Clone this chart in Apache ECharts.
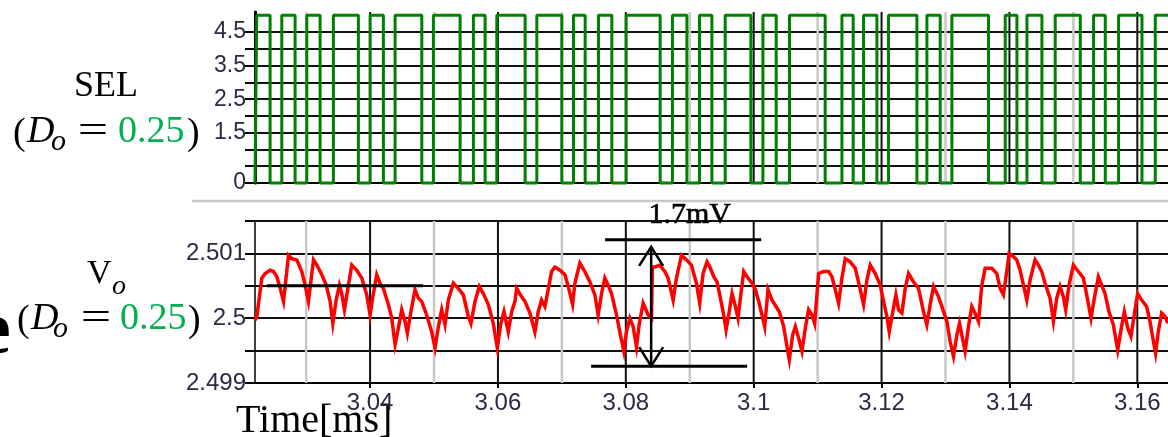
<!DOCTYPE html>
<html><head><meta charset="utf-8">
<script src="https://cdn.jsdelivr.net/npm/echarts@6/dist/echarts.min.js"></script>
<style>html,body{margin:0;padding:0;background:#fff}#c{width:1168px;height:437px}</style>
</head><body><div id="c"></div>
<script>
// ---------- data ----------
const timeMin = 3.0220, timeMax = 3.1648;
const timeMajor = [3.04, 3.06, 3.08, 3.10, 3.12, 3.14, 3.16];
const timeMinor = [3.03, 3.05, 3.07, 3.09, 3.11, 3.13, 3.15];
const selTickValues = [0, 0.5, 1, 1.5, 2, 2.5, 3, 3.5, 4, 4.5];
const selLabelValues = [0, 1.5, 2.5, 3.5, 4.5];
const selLow = 0, selHigh = 5;
// SEL toggle instants [ms], starts low
const selEdges = [3.02227, 3.02436, 3.02619, 3.02827, 3.03010, 3.03218, 3.03426, 3.03817, 3.04000, 3.04208,
  3.04391, 3.04809, 3.04990, 3.05408, 3.05616, 3.05799, 3.05982, 3.06425, 3.06608, 3.06999,
  3.07181, 3.07364, 3.07572, 3.07781, 3.08005, 3.08537, 3.08729, 3.08955, 3.09152, 3.09346,
  3.09554, 3.09956, 3.10144, 3.10352, 3.10560, 3.11118, 3.11380, 3.11556, 3.11718, 3.11927,
  3.12109, 3.12553, 3.12709, 3.12917, 3.13100, 3.13673, 3.13934, 3.14117, 3.14274, 3.14508,
  3.14716, 3.15108, 3.15316, 3.15499, 3.15707, 3.16073, 3.16281];
const voTime = [3.0220, 3.02229, 3.02307, 3.02359, 3.02438, 3.02490, 3.02542, 3.02594, 3.02646, 3.02724,
  3.02776, 3.02854, 3.02932, 3.02984, 3.03036, 3.03115, 3.03167, 3.03245, 3.03313, 3.03375,
  3.03417, 3.03469, 3.03521, 3.03557, 3.03599, 3.03661, 3.03714, 3.03792, 3.03870, 3.03948,
  3.04000, 3.04052, 3.04104, 3.04167, 3.04208, 3.04286, 3.04339, 3.04391, 3.04443, 3.04495,
  3.04547, 3.04583, 3.04635, 3.04703, 3.04755, 3.04807, 3.04885, 3.04964, 3.05016, 3.05068,
  3.05120, 3.05172, 3.05224, 3.05302, 3.05380, 3.05458, 3.05536, 3.05578, 3.05641, 3.05708,
  3.05771, 3.05849, 3.05927, 3.05990, 3.06042, 3.06094, 3.06161, 3.06214, 3.06266, 3.06292,
  3.06370, 3.06422, 3.06500, 3.06578, 3.06630, 3.06682, 3.06734, 3.06760, 3.06839, 3.06891,
  3.06969, 3.07047, 3.07099, 3.07167, 3.07203, 3.07281, 3.07359, 3.07438, 3.07516, 3.07568,
  3.07620, 3.07672, 3.07724, 3.07776, 3.07854, 3.07906, 3.07969, 3.08010, 3.08063, 3.08115,
  3.08167, 3.08208, 3.08271, 3.08349, 3.08401, 3.08415, 3.08453, 3.08531, 3.08609, 3.08661,
  3.08740, 3.08792, 3.08870, 3.08948, 3.09026, 3.09104, 3.09156, 3.09208, 3.09270, 3.09323,
  3.09375, 3.09427, 3.09479, 3.09531, 3.09568, 3.09609, 3.09661, 3.09714, 3.09755, 3.09792,
  3.09844, 3.09896, 3.09974, 3.10026, 3.10078, 3.10130, 3.10172, 3.10224, 3.10286, 3.10349,
  3.10401, 3.10469, 3.10521, 3.10557, 3.10609, 3.10651, 3.10703, 3.10755, 3.10807, 3.10859,
  3.10911, 3.10953, 3.11016, 3.11094, 3.11172, 3.11224, 3.11276, 3.11328, 3.11380, 3.11432,
  3.11510, 3.11589, 3.11667, 3.11719, 3.11771, 3.11823, 3.11901, 3.11979, 3.12031, 3.12083,
  3.12120, 3.12172, 3.12224, 3.12266, 3.12318, 3.12370, 3.12422, 3.12500, 3.12578, 3.12656,
  3.12708, 3.12760, 3.12813, 3.12891, 3.12943, 3.13021, 3.13073, 3.13125, 3.13177, 3.13219,
  3.13266, 3.13307, 3.13359, 3.13411, 3.13474, 3.13516, 3.13568, 3.13620, 3.13724, 3.13802,
  3.13854, 3.13906, 3.13958, 3.13995, 3.14063, 3.14115, 3.14167, 3.14219, 3.14271, 3.14323,
  3.14401, 3.14453, 3.14505, 3.14557, 3.14635, 3.14688, 3.14740, 3.14792, 3.14844, 3.14880,
  3.14932, 3.15000, 3.15078, 3.15156, 3.15208, 3.15276, 3.15328, 3.15391, 3.15443, 3.15495,
  3.15557, 3.15625, 3.15693, 3.15745, 3.15797, 3.15849, 3.15901, 3.15964, 3.16005, 3.16068,
  3.16146, 3.16198, 3.16234, 3.16286, 3.16328, 3.16380, 3.16432, 3.16479];
const voValue = [2.49997, 2.50003, 2.50062, 2.50069, 2.50074, 2.50072, 2.50064, 2.50046, 2.50026, 2.50097,
  2.50092, 2.50090, 2.50072, 2.50051, 2.50026, 2.50090, 2.50082, 2.50067, 2.50051, 2.50026,
  2.49992, 2.50028, 2.50051, 2.50038, 2.50013, 2.50051, 2.50082, 2.50074, 2.50062, 2.50036,
  2.50005, 2.50038, 2.50067, 2.50051, 2.50046, 2.50021, 2.50000, 2.49959, 2.49985, 2.50013,
  2.49995, 2.49977, 2.50008, 2.50044, 2.50031, 2.50026, 2.50005, 2.49979, 2.49954, 2.49987,
  2.50013, 2.49990, 2.50028, 2.50054, 2.50046, 2.50036, 2.50003, 2.49992, 2.50026, 2.50049,
  2.50038, 2.50021, 2.49992, 2.49954, 2.49990, 2.50010, 2.49979, 2.50010, 2.50026, 2.50046,
  2.50033, 2.50026, 2.50008, 2.49979, 2.50010, 2.50028, 2.50018, 2.50031, 2.50072, 2.50079,
  2.50074, 2.50067, 2.50049, 2.50021, 2.50054, 2.50085, 2.50072, 2.50056, 2.50036, 2.50005,
  2.50038, 2.50062, 2.50051, 2.50038, 2.50005, 2.49979, 2.49949, 2.49979, 2.50000, 2.49987,
  2.49956, 2.49990, 2.50023, 2.50005, 2.50000, 2.50079, 2.50079, 2.50082, 2.50072, 2.50062,
  2.50028, 2.50062, 2.50097, 2.50090, 2.50082, 2.50054, 2.50023, 2.50069, 2.50087, 2.50077,
  2.50064, 2.50056, 2.50031, 2.50005, 2.49982, 2.50005, 2.50038, 2.50018, 2.50000, 2.50031,
  2.50072, 2.50064, 2.50054, 2.50044, 2.50026, 2.50005, 2.49987, 2.50044, 2.50028, 2.50018,
  2.50010, 2.49987, 2.49956, 2.49936, 2.49974, 2.49987, 2.49969, 2.49949, 2.49985, 2.50013,
  2.50005, 2.49992, 2.50069, 2.50072, 2.50072, 2.50064, 2.50044, 2.50023, 2.50062, 2.50092,
  2.50087, 2.50077, 2.50044, 2.50021, 2.50059, 2.50082, 2.50069, 2.50051, 2.50026, 2.50003,
  2.49979, 2.50008, 2.50036, 2.50013, 2.50008, 2.50046, 2.50069, 2.50056, 2.50046, 2.50010,
  2.49990, 2.50021, 2.50049, 2.50033, 2.50018, 2.49995, 2.49964, 2.49941, 2.49974, 2.49992,
  2.49969, 2.49949, 2.49987, 2.50018, 2.50005, 2.49995, 2.50051, 2.50077, 2.50077, 2.50069,
  2.50046, 2.50036, 2.50072, 2.50100, 2.50095, 2.50090, 2.50074, 2.50051, 2.50028, 2.50059,
  2.50090, 2.50082, 2.50072, 2.50054, 2.50031, 2.49995, 2.50031, 2.50049, 2.50033, 2.50013,
  2.50051, 2.50082, 2.50072, 2.50062, 2.50036, 2.50000, 2.50031, 2.50064, 2.50051, 2.50038,
  2.50010, 2.49990, 2.49951, 2.49982, 2.50010, 2.49985, 2.49972, 2.50013, 2.50038, 2.50028,
  2.50018, 2.49995, 2.49974, 2.49946, 2.49979, 2.50008, 2.50003, 2.49992];
// annotation segments: [t1, v1, t2, v2, kind]  kind 0 = line, 1 = double arrow
const annotSegments = [
  [3.07676, 2.50121, 3.10117, 2.50121, 0],
  [3.07457, 2.49926, 3.09898, 2.49926, 0],
  [3.02389, 2.50050, 3.04829, 2.50050, 0],
  [3.08396, 2.50110, 3.08396, 2.49926, 1]
];
const rippleLabelPos = [3.0900, 2.50159];
const rippleLabel = '1.7mV';

// ---------- build ----------
const selData = [[timeMin, selLow]];
let lvl = selLow;
selEdges.forEach(t => { selData.push([t, lvl]); lvl = (lvl === selLow) ? selHigh : selLow; selData.push([t, lvl]); });
selData.push([timeMax, lvl]);
const voData = voTime.map((t, i) => [t, voValue[i]]);

const tickColor = '#2a2a45';
const serif = 'Liberation Serif';
const sans = 'Liberation Sans';

function vGrid(idx, values, yVal, color, width) {
  return {
    type: 'custom', xAxisIndex: idx, yAxisIndex: idx, silent: true, z: 1, clip: false,
    data: values.map(v => [v, yVal]), encode: { x: 0, y: 1 },
    renderItem: (params, api) => {
      const cs = params.coordSys;
      const x = api.coord([api.value(0), api.value(1)])[0];
      return { type: 'line', shape: { x1: x, y1: cs.y, x2: x, y2: cs.y + cs.height }, style: { stroke: color, lineWidth: width } };
    }
  };
}

const chart = echarts.init(document.getElementById('c'), null, { renderer: 'canvas' });
const splitColorsTop = [];
for (let i = 0; i < 12; i++) splitColorsTop.push(i < 10 ? '#111' : 'rgba(0,0,0,0)');

const option = {
  animation: false,
  backgroundColor: '#fff',
  grid: [
    { left: 255, right: 0, top: 12, height: 171 },
    { left: 255, right: 0, top: 221, height: 162 }
  ],
  xAxis: [
    { gridIndex: 0, type: 'value', min: timeMin, max: timeMax,
      axisLine: { show: true, onZero: false, lineStyle: { color: '#000', width: 2 } },
      axisTick: { show: false }, axisLabel: { show: false }, splitLine: { show: false } },
    { gridIndex: 1, type: 'value', min: timeMin, max: timeMax,
      axisLine: { show: true, onZero: false, lineStyle: { color: '#000', width: 2 } },
      axisTick: { show: true, customValues: timeMajor, length: 5, lineStyle: { color: '#000', width: 2 } },
      axisLabel: { customValues: timeMajor, formatter: v => String(+(+v).toFixed(2)), fontSize: 24, fontFamily: sans, color: tickColor, margin: 8 },
      splitLine: { show: false } }
  ],
  yAxis: [
    { gridIndex: 0, type: 'value', min: 0, max: 5.1, interval: 0.5,
      axisLine: { show: true, lineStyle: { color: '#000', width: 3 } },
      axisTick: { show: true, customValues: selTickValues, length: 10, lineStyle: { color: '#000', width: 2 } },
      axisLabel: { customValues: selLabelValues, fontSize: 23, fontFamily: sans, color: tickColor, margin: 9 },
      splitLine: { show: true, lineStyle: { color: splitColorsTop, width: 2 } } },
    { gridIndex: 1, type: 'value', min: 2.499, max: 2.5015, interval: 0.0005,
      axisLine: { show: true, lineStyle: { color: '#000', width: 1.5 } },
      axisTick: { show: true, length: 10, lineStyle: { color: '#000', width: 2 } },
      axisLabel: { fontSize: 24, fontFamily: sans, color: tickColor, margin: 9,
        formatter: v => (Math.round(v * 10000) % 10 === 0) ? String(Math.round(v * 1000) / 1000) : '' },
      splitLine: { show: true, lineStyle: { color: '#111', width: 2 } } }
  ],
  series: [
    vGrid(0, timeMinor, 1, '#c8c8c8', 2.5),
    vGrid(0, timeMajor, 1, '#111', 2),
    vGrid(1, timeMinor, 2.5, '#c8c8c8', 2.5),
    vGrid(1, timeMajor, 2.5, '#111', 2),
    { type: 'line', xAxisIndex: 0, yAxisIndex: 0, data: selData, showSymbol: false, z: 3, clip: false,
      lineStyle: { color: '#008000', width: 3 }, itemStyle: { color: '#008000' } },
    { type: 'line', xAxisIndex: 1, yAxisIndex: 1, data: voData, showSymbol: false, z: 3,
      lineStyle: { color: '#ff0000', width: 3.5, join: 'miter' }, itemStyle: { color: '#ff0000' } },
    { type: 'custom', xAxisIndex: 1, yAxisIndex: 1, z: 10, clip: false, silent: true,
      data: annotSegments, encode: { x: [0, 2], y: [1, 3] },
      renderItem: (params, api) => {
        const p1 = api.coord([api.value(0), api.value(1)]);
        const p2 = api.coord([api.value(2), api.value(3)]);
        const kind = api.value(4);
        const children = [{ type: 'line', shape: { x1: p1[0], y1: p1[1], x2: p2[0], y2: p2[1] }, style: { stroke: '#000', lineWidth: kind === 1 ? 2.5 : 3 } }];
        if (kind === 1) {
          const w = 12, h = 19;
          children.push({ type: 'polyline', shape: { points: [[p1[0] - w, p1[1] + h], [p1[0], p1[1]], [p1[0] + w, p1[1] + h]] }, style: { stroke: '#000', lineWidth: 2.5, fill: null } });
          children.push({ type: 'polyline', shape: { points: [[p2[0] - w, p2[1] - h], [p2[0], p2[1]], [p2[0] + w, p2[1] - h]] }, style: { stroke: '#000', lineWidth: 2.5, fill: null } });
        }
        return { type: 'group', children };
      } },
    { type: 'custom', xAxisIndex: 1, yAxisIndex: 1, z: 11, clip: false, silent: true,
      data: [rippleLabelPos], encode: { x: 0, y: 1 },
      renderItem: (params, api) => {
        const p = api.coord([api.value(0), api.value(1)]);
        return { type: 'text', x: p[0], y: p[1], style: { text: rippleLabel, fontSize: 30, fontFamily: serif, fill: '#000', stroke: '#000', lineWidth: 0.6, align: 'center', verticalAlign: 'middle' } };
      } }
  ],
  graphic: [
    { type: 'line', shape: { x1: 192, y1: 201, x2: 1168, y2: 201 }, style: { stroke: '#c8c8c8', lineWidth: 2.5 }, silent: true },
    { type: 'text', x: 106, y: 87, style: { text: 'SEL', fontSize: 36, fontFamily: serif, fill: '#000', align: 'center', verticalAlign: 'middle' } },
    { type: 'text', x: 13, y: 134, style: { text: '(', fontSize: 38, fontFamily: serif, fill: '#000', align: 'left', verticalAlign: 'middle' } },
    { type: 'text', x: 27, y: 132, style: { text: 'D', fontSize: 38, fontFamily: serif, fontStyle: 'italic', fill: '#000', align: 'left', verticalAlign: 'middle' } },
    { type: 'text', x: 51, y: 142, style: { text: 'o', fontSize: 30, fontFamily: serif, fontStyle: 'italic', fill: '#000', align: 'left', verticalAlign: 'middle' } },
    { type: 'text', x: 93, y: 132, scaleX: 1.35, style: { text: '=', fontSize: 40, fontFamily: serif, fill: '#000', align: 'center', verticalAlign: 'middle' } },
    { type: 'text', x: 118, y: 132, style: { text: '0.25', fontSize: 38, fontFamily: serif, fill: '#00b050', align: 'left', verticalAlign: 'middle' } },
    { type: 'text', x: 187, y: 134, style: { text: ')', fontSize: 38, fontFamily: serif, fill: '#000', align: 'left', verticalAlign: 'middle' } },
    { type: 'text', x: 87, y: 274, style: { text: 'V', fontSize: 34, fontFamily: serif, fill: '#000', align: 'left', verticalAlign: 'middle' } },
    { type: 'text', x: 112, y: 287, style: { text: 'o', fontSize: 28, fontFamily: serif, fontStyle: 'italic', fill: '#000', align: 'left', verticalAlign: 'middle' } },
    { type: 'text', x: 17, y: 321, style: { text: '(', fontSize: 38, fontFamily: serif, fill: '#000', align: 'left', verticalAlign: 'middle' } },
    { type: 'text', x: 31, y: 319, style: { text: 'D', fontSize: 38, fontFamily: serif, fontStyle: 'italic', fill: '#000', align: 'left', verticalAlign: 'middle' } },
    { type: 'text', x: 53, y: 329, style: { text: 'o', fontSize: 30, fontFamily: serif, fontStyle: 'italic', fill: '#000', align: 'left', verticalAlign: 'middle' } },
    { type: 'text', x: 96, y: 319, scaleX: 1.35, style: { text: '=', fontSize: 40, fontFamily: serif, fill: '#000', align: 'center', verticalAlign: 'middle' } },
    { type: 'text', x: 120, y: 319, style: { text: '0.25', fontSize: 38, fontFamily: serif, fill: '#00b050', align: 'left', verticalAlign: 'middle' } },
    { type: 'text', x: 188, y: 321, style: { text: ')', fontSize: 38, fontFamily: serif, fill: '#000', align: 'left', verticalAlign: 'middle' } },
    { type: 'text', x: -23, y: 333, style: { text: 'e', fontSize: 76, fontFamily: serif, fontWeight: 'bold', fill: '#000', align: 'left', verticalAlign: 'middle' } },
    { type: 'text', x: 236, y: 421, style: { text: 'Time[ms]', fontSize: 40, fontFamily: serif, fill: '#000', align: 'left', verticalAlign: 'middle' } }
  ]
};
chart.setOption(option);
</script>
</body></html>
